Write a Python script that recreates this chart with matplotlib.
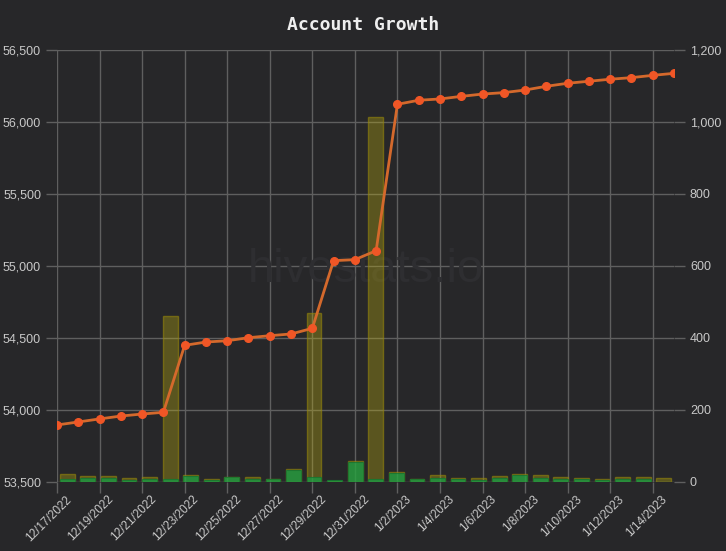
import matplotlib
matplotlib.use("Agg")
import matplotlib.pyplot as plt
import matplotlib.dates as mdates
import matplotlib.ticker as mticker
import matplotlib.transforms as mtransforms
import pandas as pd

dates = pd.date_range("2022-12-17", "2023-01-15", freq="D")
balance = [53896, 53917, 53938, 53958, 53972, 53984, 54449, 54472, 54481, 54502,
           54516, 54528, 54567, 55037, 55044, 55106, 56123, 56151, 56160, 56178,
           56194, 56204, 56222, 56248, 56269, 56283, 56297, 56308, 56324, 56338]
yellow_vals = [21, 17, 16, 10, 13, 461, 19, 7, 15, 13, 9, 35, 469, 2, 58, 1014,
               28, 7, 19, 10, 10, 17, 23, 19, 13, 11, 8, 14, 13, 11]
green_vals = [9.5, 12, 12, 6, 8, 8, 18, 5, 14, 9, 8, 32, 14, 5, 55, 8,
              24, 7, 11, 7, 6, 12, 19, 12, 8, 7, 6, 9, 8, 0]
left_ticks = [53500, 54000, 54500, 55000, 55500, 56000, 56500]
right_ticks = [0, 200, 400, 600, 800, 1000, 1200]

BG = "#272729"
GRID = "#5f5f5f"
TXT = "#c8c8c8"

fig = plt.figure(figsize=(7.26, 5.51), dpi=100, facecolor=BG)
rect = [57 / 726, 69 / 551, 617 / 726, 432 / 551]

# bottom layer: grid, left & x axis
ax = fig.add_axes(rect, zorder=0)
ax.set_facecolor(BG)
ax.set_xlim(dates[0], dates[-1])
ax.set_ylim(left_ticks[0], left_ticks[-1])
ax.set_yticks(left_ticks)
ax.yaxis.set_major_formatter(mticker.FuncFormatter(lambda v, p: f"{int(v):,}"))
xt = dates[::2]
ax.set_xticks(xt)
ax.set_xticklabels([f"{d.month}/{d.day}/{d.year}" for d in xt], rotation=45,
                   ha="right", va="top", rotation_mode="anchor")
ax.grid(True, color=GRID, lw=1)
for s in ax.spines.values():
    s.set_visible(False)
ax.tick_params(axis="both", colors=GRID, labelcolor=TXT, length=8, width=1,
               labelsize=9)
ax.tick_params(axis="x", pad=1, labelsize=8.5)
offset = mtransforms.ScaledTranslation(8 / 100, 1 / 100, fig.dpi_scale_trans)
for lab in ax.get_xticklabels():
    lab.set_transform(lab.get_transform() + offset)
ax.text(0.5, 0.49, "hivestats.io", transform=ax.transAxes, ha="center",
        va="center", fontsize=34, color="#2e2e31", family="Liberation Sans")
for lab in ax.get_xticklabels() + ax.get_yticklabels():
    lab.set_family("Liberation Sans")

# middle layer: bars on category axis, right y axis
axb = fig.add_axes(rect, zorder=1)
axb.set_facecolor("none")
idx = list(range(len(dates)))
axb.bar(idx, yellow_vals, width=0.72, color=(187 / 255, 173 / 255, 15 / 255, 0.35),
        edgecolor=(150 / 255, 135 / 255, 10 / 255, 0.6), linewidth=1)
axb.bar(idx, green_vals, width=0.72, color=(20 / 255, 160 / 255, 70 / 255, 0.72),
        edgecolor=(20 / 255, 120 / 255, 50 / 255, 0.8), linewidth=0.8)
axb.set_xlim(-0.5, len(dates) - 0.5)
axb.set_ylim(right_ticks[0], right_ticks[-1])
axb.set_yticks(right_ticks)
axb.yaxis.set_major_formatter(mticker.FuncFormatter(lambda v, p: f"{int(v):,}"))
axb.yaxis.tick_right()
axb.set_xticks([])
for s in axb.spines.values():
    s.set_visible(False)
axb.tick_params(axis="y", colors=GRID, labelcolor=TXT, length=8, width=1,
                labelsize=9)
for lab in axb.get_yticklabels():
    lab.set_family("Liberation Sans")

# top layer: line
axl = fig.add_axes(rect, zorder=2, sharex=ax, sharey=ax)
axl.set_facecolor("none")
axl.plot(dates, balance, color="#d4692c", lw=2.0, marker="o", markersize=5.5,
         markerfacecolor="#f05626", markeredgecolor="#f05626")
axl.axis("off")

fig.text(0.5, 1 - 25 / 551, "Account Growth", ha="center", va="center",
         fontsize=13, fontweight="bold", color="#eeeeee", family="DejaVu Sans Mono")

fig.savefig("out.png", dpi=100, facecolor=BG)
